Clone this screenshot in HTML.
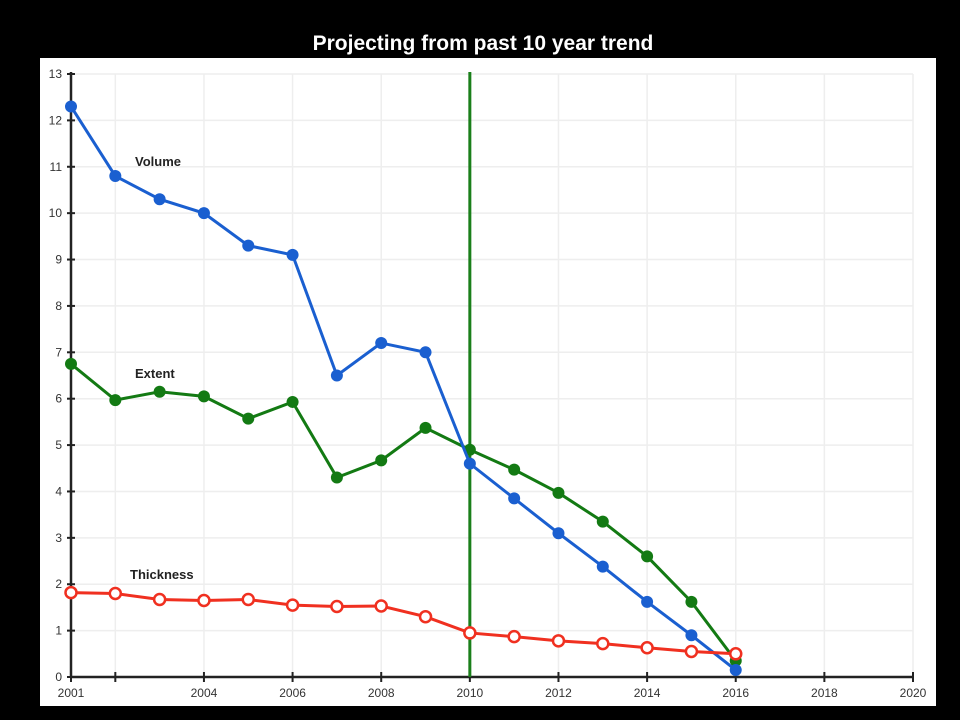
<!DOCTYPE html>
<html><head><meta charset="utf-8"><style>
html,body{margin:0;padding:0;background:#000;width:960px;height:720px;overflow:hidden}
</style></head><body>
<svg id="chart" width="960" height="720" xmlns="http://www.w3.org/2000/svg" font-family="Liberation Sans, sans-serif">
<rect x="0" y="0" width="960" height="720" fill="#000"/>
<text x="483" y="50" fill="#fff" font-size="21" font-weight="bold" text-anchor="middle">Projecting from past 10 year trend</text>
<rect x="40" y="58" width="896" height="648" fill="#fff"/>
<g id="grid"></g><g id="axes"></g><g id="series"></g>
</svg>
<script>
const years=[2001,2002,2003,2004,2005,2006,2007,2008,2009,2010,2011,2012,2013,2014,2015,2016];
const volume=[12.3,10.8,10.3,10.0,9.3,9.1,6.5,7.2,7.0,4.6,3.85,3.1,2.38,1.62,0.9,0.15];
const extent=[6.75,5.97,6.15,6.05,5.57,5.93,4.3,4.67,5.37,4.9,4.47,3.97,3.35,2.6,1.62,0.35];
const thickness=[1.82,1.8,1.67,1.65,1.67,1.55,1.52,1.53,1.3,0.95,0.87,0.78,0.72,0.63,0.55,0.5];
const xTicks=[2001,2002,2004,2006,2008,2010,2012,2014,2016,2018,2020];
const xLabels=["2001","","2004","2006","2008","2010","2012","2014","2016","2018","2020"];
const yTicks=[0,1,2,3,4,5,6,7,8,9,10,11,12,13];
const NS="http://www.w3.org/2000/svg";
const X=v=>71+(v-2001)*(913-71)/19;
const Y=v=>677-v*(677-74)/13;
function mk(tag,attrs,parent){const e=document.createElementNS(NS,tag);for(const k in attrs)e.setAttribute(k,attrs[k]);parent.appendChild(e);return e;}
const grid=document.getElementById('grid'),axes=document.getElementById('axes'),ser=document.getElementById('series');
yTicks.forEach(t=>{
 const l=mk('line',{x1:71,x2:913,y1:Y(t),y2:Y(t),stroke:'#eeeeee','stroke-width':1.5},grid);
 
 
 const tk=mk('line',{x1:67,x2:75,y1:Y(t),y2:Y(t),stroke:'#222','stroke-width':2},axes);
 
 
 const tx=mk('text',{x:62,y:Y(t)+4,'font-size':12,fill:'#333','text-anchor':'end'},axes);
 tx.textContent=t;
 
 
});
xTicks.forEach((t,i)=>{
 const l=mk('line',{x1:X(t),x2:X(t),y1:74,y2:677,stroke:'#eeeeee','stroke-width':1.5},grid);
 
 
 const tk=mk('line',{x1:X(t),x2:X(t),y1:672,y2:682,stroke:'#222','stroke-width':2},axes);
 
 
 if(xLabels[i]){const tx=mk('text',{x:X(t),y:697,'font-size':12,fill:'#333','text-anchor':'middle'},axes);
 tx.textContent=xLabels[i];
 
 }
});
let a=mk('line',{x1:71,x2:71,y1:72,y2:677,stroke:'#222','stroke-width':2.5},axes);


a=mk('line',{x1:71,x2:913,y1:677,y2:677,stroke:'#222','stroke-width':2.5},axes);


const vl=mk('line',{x1:X(2010),x2:X(2010),y1:72,y2:677,stroke:'#1a7f1a','stroke-width':3},ser);


function draw(vals,color,hollow,name){
 const p=mk('polyline',{points:vals.map((v,i)=>X(years[i])+','+Y(v)).join(' '),fill:'none',stroke:color,'stroke-width':3},ser);
 
 
 vals.forEach((v,i)=>{
  const c=mk('circle',{cx:X(years[i]),cy:Y(v),r:hollow?5.5:6,fill:hollow?'#fff':color,stroke:color,'stroke-width':hollow?2.5:0},ser);
  
  
 });
}
draw(extent,'#137a13',false,'extent');
draw(volume,'#1a5fd0',false,'volume');
draw(thickness,'#f03020',true,'thickness');
[['Volume',135,166],['Extent',135,378],['Thickness',130,579]].forEach(d=>{
 const t=mk('text',{x:d[1],y:d[2],'font-size':13,'font-weight':'bold',fill:'#222'},ser);
 t.textContent=d[0];
 
 
});
</script>
</body></html>
